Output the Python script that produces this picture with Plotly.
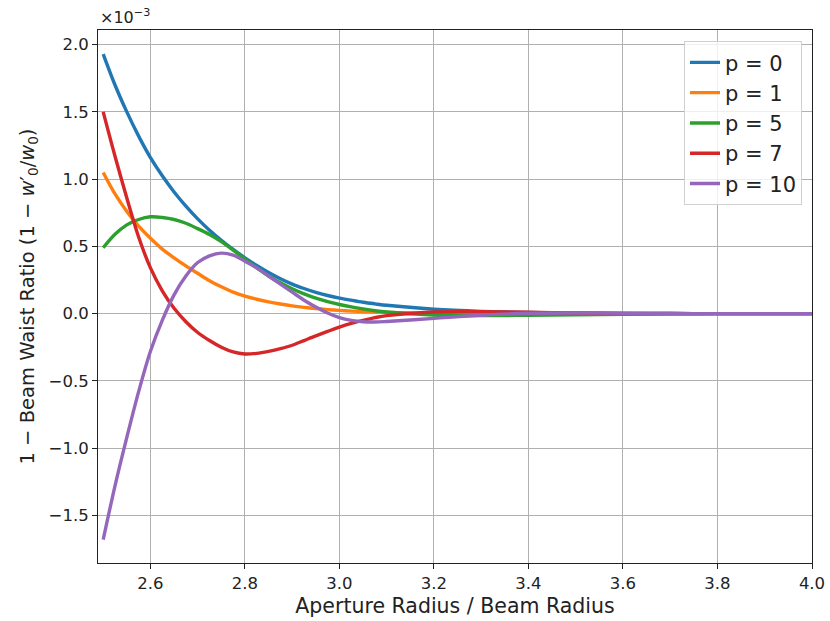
import plotly.graph_objects as go

x = [2.5, 2.525, 2.55, 2.575, 2.6, 2.625, 2.65, 2.675, 2.7, 2.725, 2.75, 2.775, 2.8,
     2.825, 2.85, 2.875, 2.9, 2.925, 2.95, 2.975, 3.0, 3.025, 3.05, 3.075, 3.1,
     3.2, 3.3, 3.4, 3.5, 3.6, 3.7, 3.8, 3.9, 4.0]

# values in units of 1e-3
p0 = [1.93, 1.70, 1.50, 1.32, 1.16, 1.025, 0.905, 0.80, 0.705, 0.62, 0.545, 0.477, 0.415,
      0.358, 0.306, 0.26, 0.22, 0.187, 0.158, 0.135, 0.116, 0.10, 0.085, 0.073, 0.062,
      0.033, 0.017, 0.008, 0.004, 0.002, 0.001, 0.0, 0.0, 0.0]
p1 = [1.05, 0.89, 0.76, 0.65, 0.56, 0.48, 0.415, 0.355, 0.30, 0.245, 0.20, 0.16, 0.13,
      0.107, 0.088, 0.072, 0.058, 0.047, 0.038, 0.030, 0.024, 0.019, 0.015, 0.012, 0.009,
      0.003, 0.001, 0.0, 0.0, 0.0, 0.0, 0.0, 0.0, 0.0]
p5 = [0.49, 0.59, 0.66, 0.70, 0.72, 0.715, 0.70, 0.672, 0.632, 0.588, 0.535, 0.472, 0.405,
      0.34, 0.28, 0.23, 0.185, 0.147, 0.115, 0.089, 0.068, 0.05, 0.035, 0.022, 0.012,
      -0.010, -0.015, -0.012, -0.008, -0.004, -0.002, 0.0, 0.0, 0.0]
p7 = [1.50, 1.17, 0.86, 0.57, 0.34, 0.17, 0.04, -0.06, -0.14, -0.20, -0.25, -0.285, -0.30,
      -0.295, -0.28, -0.26, -0.235, -0.20, -0.165, -0.132, -0.10, -0.073, -0.05, -0.03, -0.015,
      0.012, 0.014, 0.010, 0.005, 0.002, 0.001, 0.0, 0.0, 0.0]
p10 = [-1.68, -1.28, -0.92, -0.58, -0.28, -0.05, 0.14, 0.28, 0.38, 0.43, 0.45, 0.435, 0.39,
       0.34, 0.28, 0.22, 0.16, 0.10, 0.05, 0.005, -0.03, -0.05, -0.06, -0.062, -0.058,
       -0.035, -0.012, 0.003, 0.005, 0.003, 0.001, 0.0, 0.0, 0.0]

series = [("p = 0", p0, "#1f77b4"), ("p = 1", p1, "#ff7f0e"), ("p = 5", p5, "#2ca02c"),
          ("p = 7", p7, "#d62728"), ("p = 10", p10, "#9467bd")]

x_ticks = [2.6, 2.8, 3.0, 3.2, 3.4, 3.6, 3.8, 4.0]
y_ticks = [-1.5, -1.0, -0.5, 0.0, 0.5, 1.0, 1.5, 2.0]

fig = go.Figure()
for i, (name, ys, col) in enumerate(series):
    fig.add_trace(go.Scatter(x=x, y=ys, mode="lines", name=name, legendgroup=f"g{i}",
                             line=dict(color=col, width=3.4, shape="spline", smoothing=0.9)))

font = "DejaVu Sans, Arial, sans-serif"
fig.update_layout(
    width=830, height=621,
    margin=dict(l=98, r=18, t=30, b=58),
    plot_bgcolor="white", paper_bgcolor="white",
    font=dict(family=font, color="#222222", size=17),
    showlegend=True,
    legend=dict(x=0.986, y=0.979, xanchor="right", yanchor="top",
                bgcolor="rgba(255,255,255,0.8)", bordercolor="#d0d0d0", borderwidth=1,
                font=dict(size=21, family=font), tracegroupgap=0),
    xaxis=dict(range=[2.489, 4.0], tickvals=x_ticks, ticktext=[f"{v:.1f}" for v in x_ticks],
               showgrid=True, gridcolor="#b0b0b0", gridwidth=1, automargin=False,
               showline=True, linecolor="#222222", linewidth=1, mirror=True,
               ticks="outside", ticklen=5, tickcolor="#222222", zeroline=False,
               tickfont=dict(size=16.5),
               title=dict(text="Aperture Radius / Beam Radius", font=dict(size=20.5), standoff=6)),
    yaxis=dict(range=[-1.854, 2.109], tickvals=y_ticks,
               ticktext=[("−" if v < 0 else "") + f"{abs(v):.1f}" for v in y_ticks],
               showgrid=True, gridcolor="#b0b0b0", gridwidth=1, automargin=False,
               showline=True, linecolor="#222222", linewidth=1, mirror=True,
               ticks="outside", ticklen=5, tickcolor="#222222", zeroline=False,
               tickfont=dict(size=16.5),
               title=dict(text="1 − Beam Waist Ratio (1 − <i>w</i>′<sub>0</sub>/<i>w</i><sub>0</sub>)",
                          font=dict(size=19.5), standoff=8)),
    annotations=[dict(text="×10<sup>−3</sup>", xref="paper", yref="paper", x=0.0, y=1.0,
                      xanchor="left", yanchor="bottom", showarrow=False, yshift=1,
                      font=dict(size=16, family=font))],
)

fig.write_html("out.html")
